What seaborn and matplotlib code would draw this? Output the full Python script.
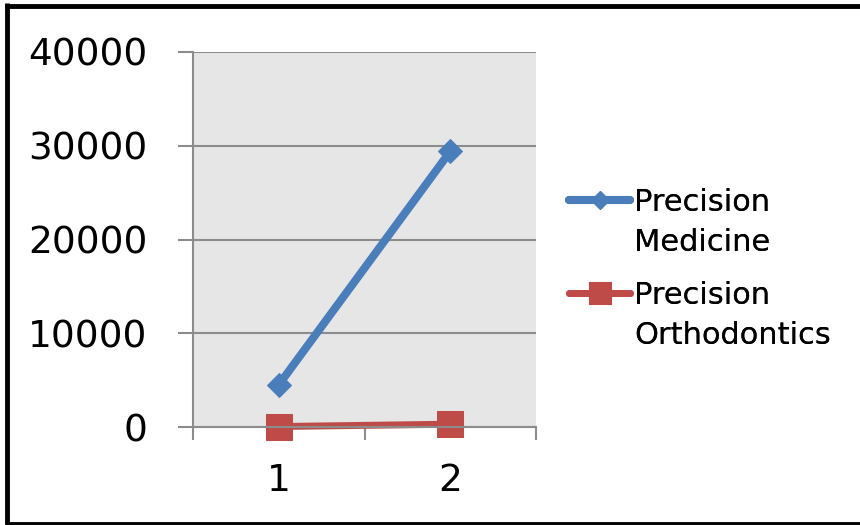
import matplotlib
matplotlib.use("Agg")
import matplotlib.pyplot as plt
from matplotlib.lines import Line2D
import seaborn as sns
import pandas as pd

# Chart data
categories = ["1", "2"]
medicine = [4500, 29400]
orthodontics = [50, 300]
series_names = ["Precision Medicine", "Precision Orthodontics"]
y_ticks = [0, 10000, 20000, 30000, 40000]

BLUE = "#4a7ebb"
RED = "#be4b48"
GRID = "#8c8c8c"

sns.set_theme(style="white")
plt.rcParams["font.family"] = ["DejaVu Sans"]
plt.rcParams["text.color"] = "black"
plt.rcParams["xtick.labelcolor"] = "black"
plt.rcParams["ytick.labelcolor"] = "black"

df = pd.DataFrame({
    "x": categories * 2,
    "value": medicine + orthodontics,
    "series": [series_names[0]] * len(categories) + [series_names[1]] * len(categories),
})

fig = plt.figure(figsize=(8.6, 5.25), dpi=100)
ax = fig.add_axes([193 / 860, 1 - 427 / 525, 343 / 860, 375 / 525])
ax.set_facecolor("#e6e6e6")

sns.lineplot(data=df[df.series == series_names[0]], x="x", y="value", ax=ax,
             color=BLUE, lw=5.8, marker="D", markersize=12,
             markeredgecolor=BLUE, sort=False, legend=False,
             solid_capstyle="round", clip_on=False)
sns.lineplot(data=df[df.series == series_names[1]], x="x", y="value", ax=ax,
             color=RED, lw=5.0, marker="s", markersize=19,
             markeredgecolor=RED, sort=False, legend=False,
             solid_capstyle="round", clip_on=False)

ax.set_xlim(-0.5, len(categories) - 0.5)
ax.set_ylim(y_ticks[0], y_ticks[-1])
ax.set_yticks(y_ticks)
ax.set_yticklabels([str(t) for t in y_ticks])
ax.yaxis.grid(True, color=GRID, lw=1.5)
ax.set_axisbelow(True)

# tick marks between categories, labels centred on categories
ax.set_xticks([i - 0.5 for i in range(len(categories) + 1)])
ax.set_xticklabels([])
ax.set_xticks(range(len(categories)), minor=True)
ax.set_xticklabels(categories, minor=True)
ax.tick_params(axis="x", which="major", direction="out", length=9, width=1.5,
               color=GRID, bottom=True)
ax.tick_params(axis="x", which="minor", length=0, pad=26, labelsize=27,
               bottom=True, labelcolor="black")
ax.tick_params(axis="y", direction="out", length=11, width=1.5, color=GRID,
               pad=22, labelsize=27, left=True, labelcolor="black")
ax.set_xlabel("")
ax.set_ylabel("")

for side in ("top", "right"):
    ax.spines[side].set_visible(False)
for side in ("left", "bottom"):
    ax.spines[side].set_color(GRID)
    ax.spines[side].set_linewidth(1.5)

# legend: one block per series, the marker sits beside the first line
series_lines = [l for l in ax.get_lines() if l.get_marker() in ("D", "s")]
blank = Line2D([], [], linestyle="none")
label_pairs = [name.split(" ", 1) for name in series_names]
legend_tops = [1 - 188 / 525, 1 - 281 / 525]
for handle, (first, second), top in zip(series_lines, label_pairs, legend_tops):
    leg = fig.legend(handles=[handle, blank], labels=[first, second],
                     loc="upper left", bbox_to_anchor=(569 / 860, top),
                     frameon=False, fontsize=22, handlelength=2.0,
                     handletextpad=0.12, labelspacing=0.36, borderpad=0,
                     borderaxespad=0, markerscale=0.8)
    for t in leg.get_texts():
        t.set_color("black")
    fig.add_artist(leg)

# outer frame: left, top and bottom edges
frame_kw = dict(transform=fig.transFigure, color="black", lw=3.5,
                solid_capstyle="butt", clip_on=False)
fig.add_artist(Line2D([7 / 860, 7 / 860], [1 - 3 / 525, 1.5 / 525], **frame_kw))
fig.add_artist(Line2D([5 / 860, 1], [1 - 5.5 / 525, 1 - 5.5 / 525], **frame_kw))
fig.add_artist(Line2D([5 / 860, 1], [1.5 / 525, 1.5 / 525], **frame_kw))

fig.savefig("out.png", dpi=100)
